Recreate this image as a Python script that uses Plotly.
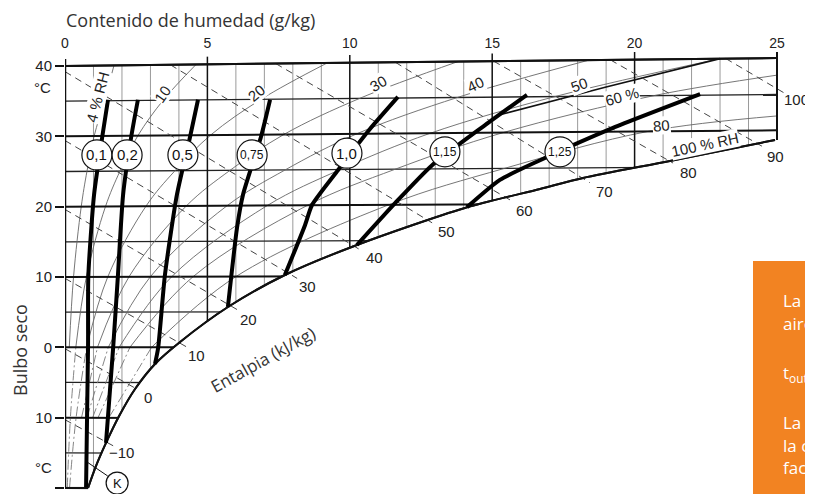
import plotly.graph_objects as go

# ---------------- data ----------------
# chart frame: top edge (g/kg, chart degC)
top_g = [0, 25]
top_t = [40.0, 41.14]
sat_end_t = 29.48

# isotherms: temperature at left axis and at right edge (g = 25)
iso_t = [40, 35, 30, 25, 20, 15, 10, 5, 0, -5, -10, -15, -20]
iso_t_right = [41.14, 35.95, 30.85, 25.7, 20.55, 15.4, 10.3, 5.15, 0.0, -5.15, -10.3, -15.4, -20.55]

grid_g_thin = [1, 2, 3, 4, 6, 7, 8, 9, 11, 12, 13, 14, 16, 17, 18, 19, 21, 22, 23, 24]
grid_g_bold = [5, 10, 15, 20]

# saturation curve (100 % RH)
sat_g = [0.81, 1.09, 1.44, 1.90, 2.46, 3.16, 4.04, 5.72, 7.72, 10.25, 14.04, 16.68, 18.19, 21.24, 24.93]
sat_t = [-20.0, -16.87, -13.6, -9.77, -5.93, -2.37, 0.76, 5.73, 10.28, 14.55, 19.81, 22.51, 24.07, 26.49, 29.48]

# relative humidity curves (points at or above 0 degC drawn solid, below dash-dot)
rh_curves = {
    "4":  ([0.15, 0.30, 0.57, 0.77, 1.02, 1.38, 1.72],
           [0, 10, 20, 25, 30, 35, 40.08]),
    "10": ([0.08, 0.19, 0.38, 0.75, 1.42, 1.93, 2.56, 3.45, 4.6],
           [-20, -10, 0, 10, 20, 25.05, 30.1, 35.15, 40.21]),
    "20": ([0.16, 0.39, 0.76, 1.5, 2.84, 3.86, 5.12, 6.9, 9.2],
           [-20, -10, 0, 10, 20.05, 25.1, 30.2, 35.3, 40.42]),
    "30": ([0.58, 1.14, 2.25, 4.26, 5.79, 7.68, 10.35, 13.8],
           [-10, 0, 10.05, 20.1, 25.15, 30.25, 35.4, 40.63]),
    "40": ([0.77, 1.52, 3.0, 5.68, 7.72, 10.24, 13.8, 18.4],
           [-10, 0, 10.05, 20.1, 25.2, 30.35, 35.55, 40.84]),
    "50": ([0.97, 1.9, 3.75, 7.1, 9.65, 12.8, 17.25, 23.0],
           [-10, 0, 10.05, 20.15, 25.25, 30.4, 35.7, 41.05]),
    "60": ([1.16, 2.28, 4.5, 8.52, 11.58, 15.36, 20.7, 25.0],
           [-10, 0, 10.05, 20.2, 25.3, 30.5, 35.8, 38.7]),
    "80": ([1.54, 3.04, 6.0, 11.36, 15.44, 20.48, 25.0],
           [-10, 0, 10.05, 20.25, 25.45, 30.7, 32.9]),
}
# darker segment of the 50 % curve (upper right)
rh50_dark_g = [15.3, 19.0, 23.0]
rh50_dark_t = [33.1, 37.0, 41.05]

# enthalpy lines (kJ/kg): start and end points
h_vals = [-10, 0, 10, 20, 30, 40, 50, 60, 70, 80, 90, 100]
h_g0 = [0, 0, 0, 0, 0, 0, 3.7, 7.4, 11.6, 15.05, 19.15, 23.2]
h_t0 = [-10.3, -0.2, 9.8, 19.6, 29.4, 39.2, 40.17, 40.34, 40.53, 40.69, 40.87, 41.06]
h_g1 = [1.69, 2.55, 4.25, 6.07, 8.15, 10.43, 12.89, 15.63, 18.43, 21.35, 24.47, 25.28]
h_t1 = [-14.0, -6.0, 0.1, 5.3, 9.8, 13.7, 17.7, 20.95, 23.4, 26.2, 28.6, 36.1]
h_lab_g = [2.0, 2.91, 4.6, 6.43, 8.53, 10.85, 13.38, 16.15, 18.96, 21.88, 24.96, 25.7]
h_lab_t = [-14.9, -7.2, -1.1, 3.9, 8.6, 12.7, 16.4, 19.5, 22.1, 24.8, 27.1, 35.2]
h_lab_txt = ["−10", "0", "10", "20", "30", "40", "50", "60", "70", "80", "90", "100"]

# bold factor lines with circled labels
factor_labels = ["0,1", "0,2", "0,5", "0,75", "1,0", "1,15", "1,25"]
factor_g = [
    [0.74, 0.81, 0.82, 1.02, 1.33, 1.51],
    [1.44, 1.69, 1.86, 2.04, 2.32, 2.56],
    [3.16, 3.27, 3.51, 3.93, 4.39, 4.67],
    [5.72, 6.04, 6.25, 6.88, 7.2],
    [7.72, 8.43, 8.67, 9.59, 10.7, 11.69],
    [10.25, 11.59, 12.89, 14.75, 16.22],
    [14.11, 15.27, 16.68, 19.24, 22.3],
]
factor_t = [
    [-19.9, 0.3, 10.2, 21.7, 30.5, 35.2],
    [-13.6, -0.1, 10.3, 21.7, 29.8, 35.2],
    [-2.37, -0.1, 10.3, 21.7, 29.9, 35.2],
    [5.73, 17.0, 21.7, 29.9, 35.2],
    [10.28, 17.4, 20.2, 25.2, 31.0, 35.6],
    [14.55, 20.5, 25.9, 31.6, 35.9],
    [19.9, 23.8, 26.6, 31.2, 36.0],
]
circle_g = [1.12, 2.18, 4.14, 6.57, 9.9, 13.34, 17.38]
circle_t = [27.35, 27.35, 27.35, 27.35, 27.6, 27.8, 27.8]

# RH labels: text, position, angle
rh_lab_txt = ["4 % RH", "10", "20", "30", "40", "50", "60 %", "80", "100 % RH"]
rh_lab_g = [1.16, 3.41, 6.74, 11.0, 14.4, 18.08, 19.56, 20.96, 22.47]
rh_lab_t = [35.6, 36.0, 36.2, 37.5, 37.4, 37.3, 35.6, 31.5, 28.8]
rh_lab_ang = [-75, -55, -40, -30, -25, -20, -15, -5, -12]

k_g, k_t = 1.83, -19.3
k_lead_g = [0.77, 1.5]
k_lead_t = [-16.3, -18.3]

y_tickvals = [40, 30, 20, 10, 0, -10, -20]
y_ticktext = ["40", "30", "20", "10", "0", "10", "−20"]
x_tickvals = [0, 5, 10, 15, 20, 25]

NUM_FONT = "Liberation Sans"
TXT_FONT = "Open Sans"

# ---------------- figure ----------------
fig = go.Figure()

# pixel geometry of the plotting area inside the 813 x 494 page
PX_L, PX_W, PX_BOT, PX_H = 65, 748, 494, 442


def pxx(px):
    return (px - PX_L) / PX_W


def pxy(py):
    return (PX_BOT - py) / PX_H


def top_at(g):
    return top_t[0] + (top_t[1] - top_t[0]) * (g - top_g[0]) / (top_g[1] - top_g[0])


def add_lines(xs, ys, color, width, dash="solid", shape="linear"):
    fig.add_trace(go.Scatter(x=xs, y=ys, mode="lines", hoverinfo="skip",
                             line=dict(color=color, width=width, dash=dash, shape=shape),
                             showlegend=False))


def vlines(gs):
    xs, ys = [], []
    for g in gs:
        xs += [g, g, None]
        ys += [-20, top_at(g), None]
    return xs, ys


def hlines(ts, trs):
    xs, ys = [], []
    for t, tr in zip(ts, trs):
        xs += [0, 25, None]
        ys += [t, tr, None]
    return xs, ys


# thin grid
x, y = vlines(grid_g_thin)
add_lines(x, y, "#9a9a9a", 1)
thin_iso = [(t, tr) for t, tr in zip(iso_t, iso_t_right) if t % 10 != 0]
x, y = hlines([a for a, b in thin_iso], [b for a, b in thin_iso])
add_lines(x, y, "#222", 1.3)

# RH curves
for name, (gs, ts) in rh_curves.items():
    warm = [(g, t) for g, t in zip(gs, ts) if t >= 0]
    cold = [(g, t) for g, t in zip(gs, ts) if t <= 0]
    add_lines([p[0] for p in warm], [p[1] for p in warm], "#666", 0.9, shape="spline")
    if len(cold) > 1:
        add_lines([p[0] for p in cold], [p[1] for p in cold], "#777", 0.9,
                  dash="10px,3px,2px,3px", shape="spline")
add_lines(rh50_dark_g, rh50_dark_t, "#111", 1.6, shape="spline")

# bold grid
x, y = vlines(grid_g_bold)
add_lines(x, y, "#111", 1.5)
bold_iso = [(t, tr) for t, tr in zip(iso_t, iso_t_right) if t % 10 == 0]
x, y = hlines([a for a, b in bold_iso], [b for a, b in bold_iso])
add_lines(x, y, "#111", 2)

# white mask below saturation curve (filled between an outer path and the curve)
fig.add_trace(go.Scatter(x=[sat_g[0], 26.3, 26.3], y=[-22, -22, sat_t[-1]], mode="lines",
                         line=dict(width=0, color="white"), hoverinfo="skip", showlegend=False))
fig.add_trace(go.Scatter(x=sat_g, y=sat_t, mode="lines", fill="tonexty", fillcolor="white",
                         line=dict(width=2, color="#111", shape="spline", smoothing=0.8),
                         hoverinfo="skip", showlegend=False))

# enthalpy lines
xs, ys = [], []
for a, b, c, d in zip(h_g0, h_t0, h_g1, h_t1):
    xs += [a, c, None]
    ys += [b, d, None]
add_lines(xs, ys, "#444", 1, dash="7px,5px")

# frame
fig.add_trace(go.Scatter(x=sat_g, y=sat_t, mode="lines", hoverinfo="skip", showlegend=False,
                         line=dict(width=2, color="#111", shape="spline", smoothing=0.8)))
add_lines([0, 0], [-20, 41.0], "#111", 2.5)
add_lines(top_g, top_t, "#111", 2)
add_lines([25, 25], [top_t[1] + 1.2, sat_end_t], "#111", 2)
add_lines([0, sat_g[0]], [-20, -20], "#111", 2)
xs, ys = [], []
for g in x_tickvals[1:-1]:
    xs += [g, g, None]
    ys += [top_at(g), top_at(g) + 1.1, None]
add_lines(xs, ys, "#111", 1.5)

# K leader
add_lines(k_lead_g, k_lead_t, "#111", 1)

# factor lines
for gs, ts in zip(factor_g, factor_t):
    fig.add_trace(go.Scatter(x=gs, y=ts, mode="lines", hoverinfo="skip",
                             line=dict(color="#000", width=4, shape="spline", smoothing=0.6),
                             showlegend=False))

shapes = []
annotations = []
for lab, g, t in zip(factor_labels, circle_g, circle_t):
    shapes.append(dict(type="circle", xref="x", yref="y", xsizemode="pixel", ysizemode="pixel",
                       xanchor=g, yanchor=t, x0=-15, x1=15, y0=-15, y1=15,
                       fillcolor="white", line=dict(color="#111", width=1.2), layer="above"))
    small = len(lab) > 3
    annotations.append(dict(x=g, y=t, xref="x", yref="y", text=lab, showarrow=False,
                            font=dict(family=NUM_FONT, size=12 if small else 15, color="#111")))

shapes.append(dict(type="circle", xref="x", yref="y", xsizemode="pixel", ysizemode="pixel",
                   xanchor=k_g, yanchor=k_t, x0=-11, x1=11, y0=-11, y1=11,
                   fillcolor="white", line=dict(color="#111", width=1.2), layer="above"))
annotations.append(dict(x=k_g, y=k_t, text="K", showarrow=False,
                        font=dict(family=NUM_FONT, size=13, color="#111")))

# RH labels
for txt, g, t, ang in zip(rh_lab_txt, rh_lab_g, rh_lab_t, rh_lab_ang):
    annotations.append(dict(x=g, y=t, text=txt, showarrow=False, textangle=ang,
                            bgcolor="white", borderpad=0,
                            font=dict(family=NUM_FONT, size=15, color="#222")))

# enthalpy labels
for txt, g, t in zip(h_lab_txt, h_lab_g, h_lab_t):
    annotations.append(dict(x=g, y=t, text=txt, showarrow=False,
                            font=dict(family=NUM_FONT, size=15, color="#222")))


# axis annotations (outside the data range -> paper coordinates)
def paper_text(px, py, txt, size, family, color, angle=0):
    return dict(xref="paper", yref="paper", x=pxx(px), y=pxy(py), text=txt, showarrow=False,
                xanchor="center", yanchor="middle", textangle=angle,
                font=dict(family=family, size=size, color=color))


annotations += [
    paper_text(190, 20, "Contenido de humedad (g/kg)", 18, TXT_FONT, "#333"),
    paper_text(20, 350, "Bulbo seco", 18, TXT_FONT, "#333", angle=-90),
    dict(x=6.95, y=-1.8, text="Entalpia (kJ/kg)", showarrow=False, textangle=-29,
         font=dict(family=TXT_FONT, size=17, color="#333")),
    paper_text(42, 87, "°C", 15, NUM_FONT, "#222"),
    paper_text(43, 467, "°C", 15, NUM_FONT, "#222"),
]

# orange side box (cut off by the page edge)
shapes.append(dict(type="rect", xref="paper", yref="paper", x0=pxx(753), x1=1.2, y0=-0.05, y1=pxy(261),
                   fillcolor="#F28322", line=dict(width=0), layer="above"))
box_lines = [("La temperatura", 300), ("aire", 323), ("t<sub>out</sub> =", 373),
             ("La capacidad", 422), ("la curva", 445), ("factor", 467)]
for txt, py in box_lines:
    annotations.append(dict(xref="paper", yref="paper", x=pxx(781), y=pxy(py),
                            xanchor="left", yanchor="middle", text=txt, showarrow=False,
                            font=dict(family=TXT_FONT, size=17, color="white")))

# the page adds an 8 px body margin, so the figure is 8 px smaller than the window
fig.update_layout(
    width=805, height=486,
    margin=dict(l=57, r=0, t=44, b=0),
    paper_bgcolor="white", plot_bgcolor="white",
    showlegend=False,
    shapes=shapes, annotations=annotations,
    xaxis=dict(range=[0, 26.264], side="top", tickvals=x_tickvals, ticks="",
               showgrid=False, zeroline=False, showline=False, automargin=False,
               tickfont=dict(family=NUM_FONT, size=14, color="#222"), fixedrange=True),
    yaxis=dict(range=[-20.86, 41.99], tickvals=y_tickvals, ticktext=y_ticktext,
               ticks="outside", ticklen=9, tickwidth=1.5, tickcolor="#111",
               showgrid=False, zeroline=False, showline=False, automargin=False,
               tickfont=dict(family=NUM_FONT, size=15, color="#222"), fixedrange=True),
)

fig.write_html("out.html")
